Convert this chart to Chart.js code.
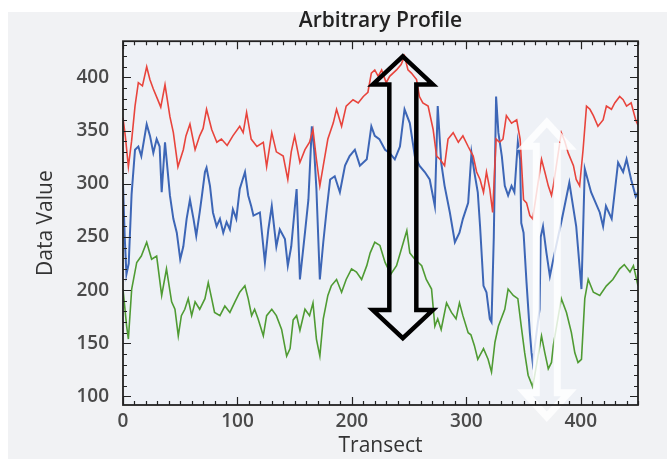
<!DOCTYPE html>
<html>
<head>
<meta charset="utf-8">
<title>Arbitrary Profile</title>
<script src="https://cdn.jsdelivr.net/npm/chart.js@4.4.1/dist/chart.umd.min.js"></script>
<style>
    html, body { margin: 0; padding: 0; background: #fff; }
    canvas { display: block; }
</style>
</head>
<body>
<canvas id="profileChart" width="667" height="459"></canvas>
<script>
// Profile values (transect position / data value)
const redX = [0, 2, 4.7, 7.5, 10.5, 13.4, 17, 20.7, 23.5, 26.5, 30, 33, 36.7, 41, 44, 48, 52.7, 55, 58.5, 63, 67, 70, 73, 77.5, 82, 86, 91, 96, 102, 105, 108, 112, 117, 122.6, 125.5, 130, 134, 140, 144, 147, 150, 154.6, 159, 163, 166, 169, 172, 175, 179, 183.7, 186.6, 191, 195, 201, 205.5, 210, 214, 217, 220, 223, 226, 230, 233, 239, 243, 246, 249, 252, 256.5, 259, 262, 266.6, 271, 274, 277, 281, 284, 288.5, 293, 297, 301.6, 306, 309, 312, 315, 317.6, 320.5, 323, 326, 329, 332, 335, 339.5, 344, 347, 350, 352.6, 355.5, 358, 365.7, 368.6, 371.6, 374.4, 376, 383, 386, 389, 393.6, 396, 399, 402, 405, 408, 411, 415, 419.5, 422.4, 426.8, 429.7, 434, 437, 440, 444, 448, 450];
const redY = [362, 345, 316, 340, 373, 395, 392, 410, 398, 389, 380, 372, 393, 363, 348, 316, 332, 345, 356, 332, 345, 352, 370, 351, 339, 342, 336, 345, 354, 348, 367, 342, 335, 339, 316, 348, 330, 326, 304, 330, 345, 320, 332, 339, 351, 323, 298, 317, 342, 357, 370, 354, 373, 379, 376, 382, 386, 404, 407, 401, 407, 395, 401, 407, 412, 420, 407, 404, 398, 382, 376, 373, 351, 326, 323, 317, 342, 348, 339, 345, 335, 326, 311, 304, 292, 311, 295, 273, 342, 339, 342, 364, 357, 360, 342, 285, 282, 270, 267, 323, 311, 298, 289, 298, 348, 340, 329, 317, 304, 298, 332, 373, 370, 364, 354, 360, 373, 370, 376, 382, 379, 373, 376, 360, 355];

const blueX = [0, 1.5, 3, 5, 7.5, 10.5, 13.4, 16, 20.7, 23.6, 26.5, 29.4, 32, 33.8, 36.7, 41, 44, 47, 50, 52.7, 55.6, 58.5, 61.6, 64, 67, 69, 71.6, 73, 76, 78.6, 81.8, 84.7, 87.6, 90.5, 93.4, 96, 99, 102, 106.6, 109.4, 112, 114, 119.6, 124, 127, 130, 134, 137, 141.5, 144, 147, 150, 151.7, 154.6, 159, 162, 165, 167, 169, 172, 175, 178, 181, 185, 189.5, 194, 198, 202.6, 207, 213, 217, 220, 224, 229, 233, 237.5, 242, 246, 250.6, 255, 259, 263.7, 268, 272.5, 275, 278, 281, 285.6, 290, 294, 297, 301.6, 304.5, 307, 310, 312, 315, 317.6, 320.5, 322, 324, 326, 328, 331, 333.6, 336.5, 339.5, 342, 345, 347, 348, 350, 352.6, 355.5, 357, 358, 364, 365, 367, 370, 373, 376, 383, 390, 396, 400.6, 403.5, 409, 416.6, 419.5, 422, 427, 432.6, 437, 440, 444, 448, 450];
const blueY = [300, 250, 215, 225, 290, 332, 335, 326, 356, 345, 329, 342, 335, 292, 339, 289, 267, 254, 229, 241, 267, 285, 267, 251, 273, 289, 311, 315, 298, 273, 260, 267, 254, 264, 257, 276, 267, 295, 311, 289, 279, 270, 273, 226, 257, 279, 241, 257, 248, 223, 241, 276, 295, 210, 254, 285, 354, 332, 295, 210, 245, 276, 304, 307, 292, 317, 326, 332, 317, 323, 354, 345, 342, 332, 329, 323, 335, 370, 357, 326, 317, 311, 304, 279, 373, 320, 298, 273, 245, 254, 267, 282, 329, 311, 292, 260, 204, 198, 173, 170, 250, 382, 348, 326, 298, 289, 298, 292, 339, 323, 263, 254, 207, 160, 141, 132, 182, 250, 260, 235, 213, 229, 264, 301, 260, 201, 314, 292, 273, 260, 279, 267, 320, 311, 323, 304, 288, 292];

const greenX = [0, 3.2, 4.7, 7.6, 12, 16, 20.7, 25, 29.4, 33.8, 38, 42.5, 45.4, 48.3, 51, 54, 57, 60, 63, 67, 71.6, 74.5, 77.5, 80, 84.7, 89, 93.4, 97.8, 102, 106.5, 109.4, 112.4, 115, 118, 122.6, 125.5, 130, 134, 138.6, 143, 146, 148.7, 151.7, 154.6, 159, 163, 166, 169, 172, 175, 179, 182, 186.6, 191, 195, 199.7, 204, 208.5, 213, 216, 220, 224.5, 229, 234, 239, 245, 248, 250.6, 255, 261, 265, 269.6, 272.5, 275, 278, 282.7, 287, 291, 294, 297, 301.6, 304, 307, 310, 315, 319, 322, 325, 328, 333.6, 336.5, 341, 345, 348, 351, 354, 358, 365.7, 368.6, 371.6, 374.4, 376, 383, 387.5, 391.8, 394.8, 397.6, 400.6, 403.5, 406.5, 411, 416.6, 422.4, 428, 434, 438, 443, 446, 450];
const greenY = [201, 166, 154, 201, 226, 232, 245, 229, 232, 195, 220, 189, 182, 157, 176, 182, 192, 176, 189, 182, 192, 207, 192, 179, 176, 185, 179, 189, 198, 204, 192, 176, 182, 173, 157, 176, 182, 176, 163, 138, 145, 172, 176, 162, 182, 176, 188, 154, 138, 173, 195, 204, 210, 198, 210, 220, 217, 210, 223, 235, 245, 242, 226, 215, 223, 245, 256, 235, 229, 223, 210, 201, 166, 173, 163, 188, 179, 173, 188, 176, 160, 158, 148, 135, 145, 135, 123, 151, 166, 182, 201, 195, 192, 166, 141, 120, 109, 157, 141, 126, 132, 148, 192, 179, 160, 141, 132, 135, 192, 210, 198, 195, 204, 210, 220, 224, 217, 223, 204];

const xTicks = [0, 100, 200, 300, 400];
const yTicks = [100, 150, 200, 250, 300, 350, 400];

// outline arrows drawn over the plot, positions in data units
const arrows = [
    { x: 244.5, yFrom: 419.7, yTo: 154.9, color: '#000', width: 4.5, head: 30, headLen: 28, shaft: 13.5 },
    { x: 370.3, yFrom: 357.7, yTo: 81, color: 'rgba(255,255,255,0.82)', width: 7, head: 22, headLen: 24, shaft: 10.5 }
];

function toPoints(xs, ys) {
    return xs.map((x, i) => ({ x: x, y: ys[i] }));
}

const frameBackground = {
    id: 'frameBackground',
    beforeDraw(chart) {
        const { ctx, chartArea: a } = chart;
        ctx.save();
        ctx.fillStyle = '#f1f2f4';
        ctx.fillRect(8, 12, chart.width - 8, chart.height - 12);
        ctx.fillStyle = '#eef1f6';
        ctx.fillRect(a.left, a.top, a.right - a.left, a.bottom - a.top);
        ctx.restore();
    }
};

const frameTicks = {
    id: 'frameTicks',
    afterDraw(chart) {
        const { ctx, chartArea: a } = chart;
        const xs = chart.scales.x, ys = chart.scales.y;
        ctx.save();
        ctx.strokeStyle = '#222';
        ctx.lineWidth = 1.2;
        ctx.beginPath();
        for (let v = 0; v <= 450; v += 10) {
            const px = Math.round(xs.getPixelForValue(v)) + 0.5;
            const len = v % 100 === 0 ? 8 : 4;
            ctx.moveTo(px, a.bottom); ctx.lineTo(px, a.bottom - len);
            ctx.moveTo(px, a.top); ctx.lineTo(px, a.top + len);
        }
        for (let v = 100; v <= 430; v += 10) {
            const py = Math.round(ys.getPixelForValue(v)) + 0.5;
            const len = v % 50 === 0 ? 8 : 4;
            ctx.moveTo(a.left, py); ctx.lineTo(a.left + len, py);
            ctx.moveTo(a.right, py); ctx.lineTo(a.right - len, py);
        }
        ctx.stroke();
        ctx.lineWidth = 1.8;
        ctx.strokeRect(a.left, a.top, a.right - a.left, a.bottom - a.top);
        ctx.restore();
    }
};

const arrowOverlay = {
    id: 'arrowOverlay',
    afterDatasetsDraw(chart) {
        const ctx = chart.ctx;
        const xs = chart.scales.x, ys = chart.scales.y;
        arrows.forEach(ar => {
            const cx = xs.getPixelForValue(ar.x);
            const top = ys.getPixelForValue(ar.yFrom);
            const bot = ys.getPixelForValue(ar.yTo);
            ctx.save();
            ctx.strokeStyle = ar.color;
            ctx.lineWidth = ar.width;
            ctx.lineJoin = 'miter';
            ctx.beginPath();
            ctx.moveTo(cx, top);
            ctx.lineTo(cx + ar.head, top + ar.headLen);
            ctx.lineTo(cx + ar.shaft, top + ar.headLen);
            ctx.lineTo(cx + ar.shaft, bot - ar.headLen);
            ctx.lineTo(cx + ar.head, bot - ar.headLen);
            ctx.lineTo(cx, bot);
            ctx.lineTo(cx - ar.head, bot - ar.headLen);
            ctx.lineTo(cx - ar.shaft, bot - ar.headLen);
            ctx.lineTo(cx - ar.shaft, top + ar.headLen);
            ctx.lineTo(cx - ar.head, top + ar.headLen);
            ctx.closePath();
            ctx.stroke();
            ctx.restore();
        });
    }
};

const tickFont = { family: "'Open Sans', sans-serif", size: 19, weight: '600' };
const titleFont = { family: "'Open Sans', sans-serif", size: 21 };

new Chart(document.getElementById('profileChart'), {
    type: 'line',
    data: {
        datasets: [{
            label: 'Red',
            data: toPoints(redX, redY),
            borderColor: '#e8443c',
            borderWidth: 1.6
        }, {
            label: 'Blue',
            data: toPoints(blueX, blueY),
            borderColor: '#3d66b6',
            borderWidth: 2
        }, {
            label: 'Green',
            data: toPoints(greenX, greenY),
            borderColor: '#4f9b33',
            borderWidth: 1.6
        }]
    },
    options: {
        responsive: false,
        animation: false,
        devicePixelRatio: 1,
        layout: { padding: { left: 0, right: 29, top: 0, bottom: 0 } },
        elements: {
            point: { radius: 0 },
            line: { tension: 0 }
        },
        plugins: {
            legend: { display: false },
            tooltip: { enabled: false },
            title: {
                display: true,
                fullSize: false,
                text: 'Arbitrary Profile',
                color: '#222',
                font: { family: "'Open Sans', sans-serif", size: 21, weight: '600' },
                padding: { top: 8, bottom: 8 }
            }
        },
        scales: {
            x: {
                type: 'linear',
                min: 0,
                max: 450,
                grid: { display: false, drawTicks: false },
                border: { display: false },
                afterBuildTicks: scale => { scale.ticks = xTicks.map(v => ({ value: v })); },
                afterFit: scale => { scale.height = 54; },
                ticks: { color: '#4a4a4a', font: tickFont, padding: 5, maxRotation: 0 },
                title: { display: true, text: 'Transect', color: '#333', font: titleFont, padding: { top: 0, bottom: 0 } }
            },
            y: {
                min: 92,
                max: 434,
                grid: { display: false, drawTicks: false },
                border: { display: false },
                afterBuildTicks: scale => { scale.ticks = yTicks.map(v => ({ value: v })); },
                afterFit: scale => { scale.width = 123; },
                ticks: { color: '#4a4a4a', font: tickFont, padding: 14 },
                title: { display: true, text: 'Data Value', color: '#333', font: titleFont, padding: { top: 33, bottom: 0 } }
            }
        }
    },
    plugins: [frameBackground, arrowOverlay, frameTicks]
});
</script>
</body>
</html>
